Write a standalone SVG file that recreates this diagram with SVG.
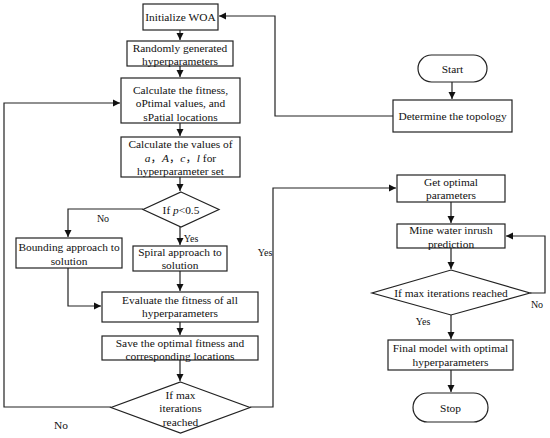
<svg xmlns="http://www.w3.org/2000/svg" width="550" height="438" viewBox="0 0 550 438">
<defs>
<style>
.b{fill:#fff;stroke:#222;stroke-width:1.2}
.c{fill:none;stroke:#222;stroke-width:1.2}
text{font-family:"Liberation Serif","Noto Sans CJK SC",serif;font-size:11.4px;fill:#111;text-anchor:middle}
.l{font-size:10px}
.i{font-style:italic}
</style>
<marker id="a" markerWidth="8" markerHeight="8" refX="7" refY="4" orient="auto" markerUnits="userSpaceOnUse">
<path d="M0,0.5 L7,4 L0,7.5 Z" fill="#111"/>
</marker>
</defs>
<rect width="550" height="438" fill="#fff"/>
<g id="connectors">
<path class="c" d="M180,30 V40" marker-end="url(#a)"/>
<path class="c" d="M180,66 V77" marker-end="url(#a)"/>
<path class="c" d="M180,123 V136" marker-end="url(#a)"/>
<path class="c" d="M180,177 V191" marker-end="url(#a)"/>
<path class="c" d="M143,209 H68 V237" marker-end="url(#a)"/>
<path class="c" d="M180,227 V245" marker-end="url(#a)"/>
<path class="c" d="M68,268 V306 H101" marker-end="url(#a)"/>
<path class="c" d="M180,271 V291" marker-end="url(#a)"/>
<path class="c" d="M180,322 V335" marker-end="url(#a)"/>
<path class="c" d="M180,360 V381" marker-end="url(#a)"/>
<path class="c" d="M111,407 H4 V103 H120" marker-end="url(#a)"/>
<path class="c" d="M250,407 H273 V188 H396" marker-end="url(#a)"/>
<path class="c" d="M393,116 H275 V16 H219" marker-end="url(#a)"/>
<path class="c" d="M452,82 V99" marker-end="url(#a)"/>
<path class="c" d="M451,202 V223" marker-end="url(#a)"/>
<path class="c" d="M451,248 V269" marker-end="url(#a)"/>
<path class="c" d="M530,293 H545 V236 H506" marker-end="url(#a)"/>
<path class="c" d="M451,315 V339" marker-end="url(#a)"/>
<path class="c" d="M451,370 V392" marker-end="url(#a)"/>
<text class="l" x="103" y="222">No</text>
<text class="l" x="191" y="242">Yes</text>
<text class="l" x="265" y="256">Yes</text>
<text x="61" y="429">No</text>
<text class="l" x="537" y="308">No</text>
<text class="l" x="423" y="325">Yes</text>
</g>
<g id="initialize">
<rect class="b" x="143" y="4" width="75" height="26"/>
<text x="180.5" y="21">Initialize WOA</text>
</g>
<g id="random">
<rect class="b" x="127" y="41" width="106" height="25"/>
<text x="180" y="51.5">Randomly generated</text>
<text x="180" y="64.5">hyperparameters</text>
</g>
<g id="fitness">
<rect class="b" x="121" y="78" width="119" height="45"/>
<text x="180.5" y="93.5">Calculate the fitness,</text>
<text x="180.5" y="107">oPtimal values, and</text>
<text x="180.5" y="120.5">sPatial locations</text>
</g>
<g id="values">
<rect class="b" x="121" y="137" width="119" height="40"/>
<text x="180.5" y="148">Calculate the values of</text>
<text x="180.5" y="161.5"><tspan class="i">a</tspan>，<tspan class="i">A</tspan>，<tspan class="i">c</tspan>，<tspan class="i">l</tspan> for</text>
<text x="180.5" y="174.5">hyperparameter set</text>
</g>
<g id="p-decision">
<path class="b" d="M181,192 L219,209.5 L181,227 L143,209.5 Z"/>
<text x="181" y="213.5">If <tspan class="i">p</tspan>&lt;0.5</text>
</g>
<g id="bounding">
<rect class="b" x="16" y="238" width="106" height="30"/>
<text x="69" y="250.5">Bounding approach to</text>
<text x="69" y="264.5">solution</text>
</g>
<g id="spiral">
<rect class="b" x="133" y="246" width="94" height="25"/>
<text x="180" y="256">Spiral approach to</text>
<text x="180" y="269">solution</text>
</g>
<g id="evaluate">
<rect class="b" x="102" y="292" width="156" height="30"/>
<text x="180" y="303.5">Evaluate the fitness of all</text>
<text x="180" y="317">hyperparameters</text>
</g>
<g id="save">
<rect class="b" x="102" y="336" width="156" height="24"/>
<text x="180" y="346.5">Save the optimal fitness and</text>
<text x="180" y="360">corresponding locations</text>
</g>
<g id="max-decision">
<path class="b" d="M180.5,382 L250,407.5 L180.5,433 L111,407.5 Z"/>
<text x="180.5" y="398.5">If max</text>
<text x="180.5" y="412">iterations</text>
<text x="180.5" y="425.5">reached</text>
</g>
<g id="start">
<rect class="b" x="418" y="55" width="69" height="27" rx="13.5"/>
<text x="452.5" y="72.5">Start</text>
</g>
<g id="topology">
<rect class="b" x="393" y="100" width="119" height="32"/>
<text x="452.5" y="120">Determine the topology</text>
</g>
<g id="get-optimal">
<rect class="b" x="397" y="175" width="108" height="27"/>
<text x="451" y="185.5">Get optimal</text>
<text x="451" y="199">parameters</text>
</g>
<g id="mine">
<rect class="b" x="397" y="224" width="108" height="24"/>
<text x="451" y="234">Mine water inrush</text>
<text x="451" y="247.5">prediction</text>
</g>
<g id="max-decision-2">
<path class="b" d="M451,270 L530,293 L451,315 L372,293 Z"/>
<text x="451" y="296.5">If max iterations reached</text>
</g>
<g id="final">
<rect class="b" x="388" y="340" width="125" height="30"/>
<text x="450.5" y="351.5">Final model with optimal</text>
<text x="450.5" y="365.5">hyperparameters</text>
</g>
<g id="stop">
<rect class="b" x="413" y="393" width="75" height="29" rx="14.5"/>
<text x="450.5" y="411.5">Stop</text>
</g>
</svg>
